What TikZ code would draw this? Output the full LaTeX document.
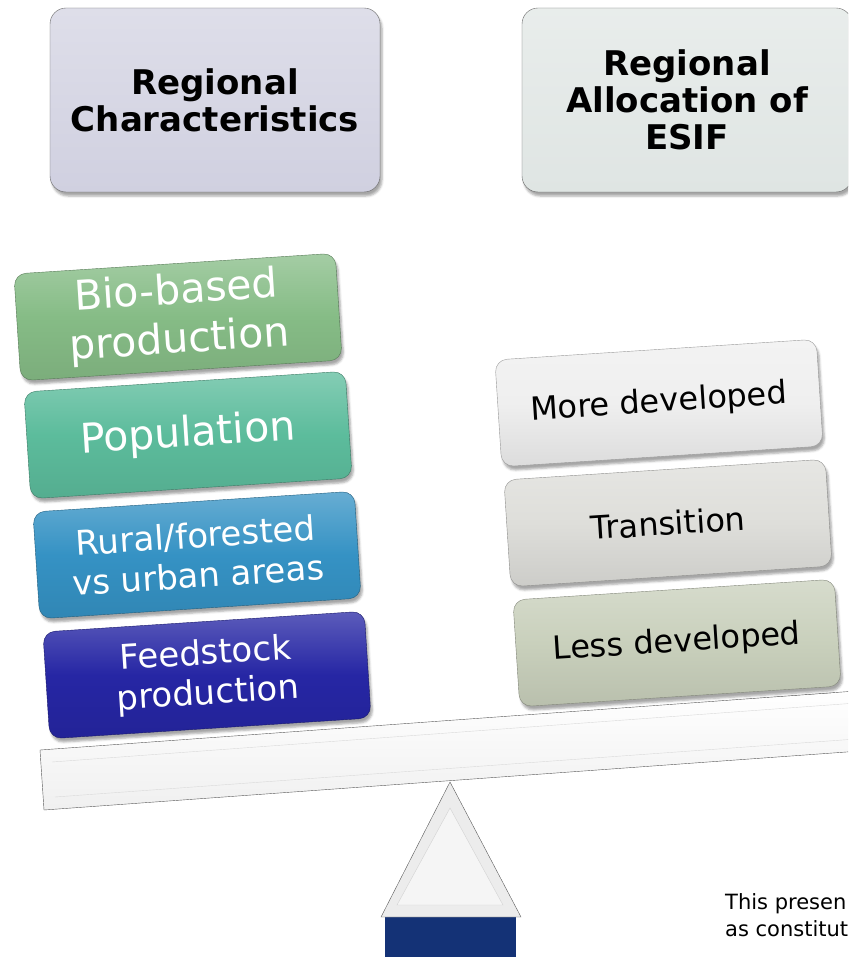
\documentclass[tikz,border=0pt]{standalone}
\usepackage{fontspec}
\setmainfont{DejaVu Sans}
\usepackage{tikz}
\usepackage{xcolor}
\usetikzlibrary{shadows.blur}

\definecolor{headleft}{HTML}{D0D0E0}
\definecolor{headright}{HTML}{DFE5E3}
\definecolor{biogreen}{HTML}{86BC86}
\definecolor{popgreen}{HTML}{5CBC9C}
\definecolor{ruralblue}{HTML}{3592C4}
\definecolor{feedblue}{HTML}{2626A4}
\definecolor{moregray}{HTML}{EFEFEF}
\definecolor{transgray}{HTML}{DEDEDA}
\definecolor{lessgreen}{HTML}{C9D0BC}
\definecolor{baseblue}{HTML}{143276}

\begin{document}
\begin{tikzpicture}[x=1pt,y=-1pt,
  headbox/.style={draw=gray!80!black, rounded corners=16pt, minimum width=330pt, minimum height=184pt,
    top color=#1!70!white, bottom color=#1, align=center, inner sep=0pt,
    font=\bfseries\fontsize{34}{37}\selectfont,
    blur shadow={shadow xshift=2pt,shadow yshift=-4pt,shadow opacity=35}},
  block/.style={draw=#1!65!black, rounded corners=12pt, minimum width=322pt, minimum height=107pt,
    rotate=3.7, top color=#1!75!white, bottom color=#1!92!black, middle color=#1, align=center, inner sep=0pt,
    blur shadow={shadow xshift=2pt,shadow yshift=-4pt,shadow opacity=35}},
  bigtext/.style={text=white, font=\fontsize{41}{49}\selectfont},
  midtext/.style={text=white, font=\fontsize{34}{40}\selectfont},
  darktext/.style={text=black, font=\fontsize{32}{36}\selectfont}]

\useasboundingbox (0,0) rectangle (848,957);
\clip (0,0) rectangle (848,957);

\node[headbox=headleft] (charhead) at (215,100) {Regional\\Characteristics};
\node[headbox=headright] (esifhead) at (687,100) {Regional\\Allocation of\\ESIF};

% beam
\draw[draw=gray!70!black, top color=white, bottom color=gray!12] (40,750) -- (870,690) -- (874,750) -- (44,810) -- cycle;
\draw[gray!30] (52,762) -- (870,702);
\draw[gray!30] (55,797) -- (870,738);
%\draw[gray!30] (52,762) -- (55,797);

% fulcrum
\fill[baseblue] (385,917) rectangle (516,960);
\draw[draw=gray!70!black, fill=gray!15] (450,782) -- (521,917) -- (381,917) -- cycle;
\draw[draw=gray!35, fill=gray!8] (450,808) -- (503,905) -- (397,905) -- cycle;

\node[block=biogreen, bigtext] (biobased) at (178,317) {Bio-based\\production};
\node[block=popgreen, bigtext] (population) at (188,435) {Population};
\node[block=ruralblue, midtext] (rural) at (197,555) {Rural/forested\\vs urban areas};
\node[block=feedblue, midtext] (feedstock) at (207,675) {Feedstock\\production};

\node[block=moregray, darktext] (moredev) at (659,403) {More developed};
\node[block=transgray, darktext] (transition) at (668,523) {Transition};
\node[block=lessgreen, darktext] (lessdev) at (677,643) {Less developed};

\node[anchor=north west, align=left, inner sep=0pt, font=\fontsize{21}{27}\selectfont] (note) at (725,893) {This presen\\as constitut};

\end{tikzpicture}
\end{document}
